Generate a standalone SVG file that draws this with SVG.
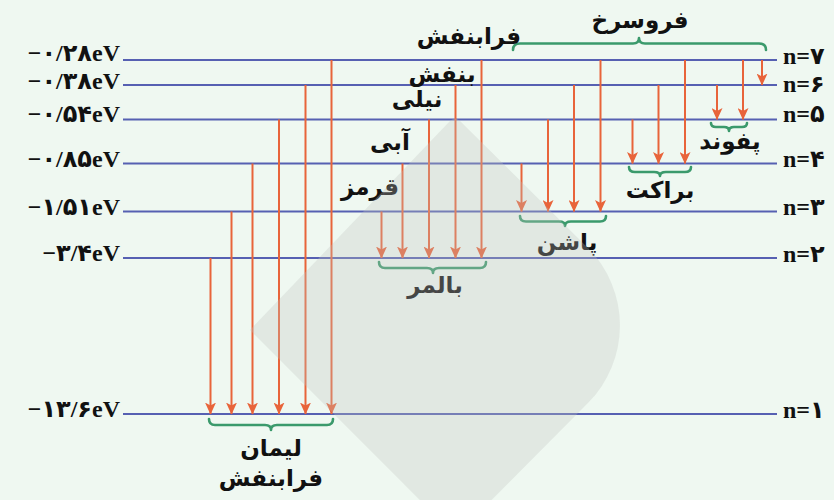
<svg xmlns="http://www.w3.org/2000/svg" width="834" height="500" viewBox="0 0 834 500">
<defs>
<marker id="ah" viewBox="0 0 12 11" refX="11.5" refY="5.5" markerWidth="12" markerHeight="11" markerUnits="userSpaceOnUse" orient="auto">
<path d="M0,0 L12,5.5 L0,11 L3,5.5 Z" fill="#e8643a"/>
</marker>
<style>
.lvl{stroke:#5660b2;stroke-width:2.2;fill:none}
.arr{stroke:#e8643a;stroke-width:2;fill:none;marker-end:url(#ah)}
.br{stroke:#3b9a6c;stroke-width:2.6;fill:none;stroke-linecap:round;stroke-linejoin:round}
.ev{font-family:"Liberation Serif","DejaVu Sans",serif;font-weight:bold;font-size:24px;fill:#111;text-anchor:end}
.nl{font-family:"Liberation Serif","DejaVu Sans",serif;font-weight:bold;font-size:24px;fill:#111}
.fa{font-family:"DejaVu Sans",sans-serif;font-weight:bold;font-size:23px;fill:#111;text-anchor:middle}
</style>
</defs>
<rect width="834" height="500" fill="#eff8f1"/>

<g id="levels">
<g id="n7"><line class="lvl" x1="123" y1="60" x2="777" y2="60"/><text class="ev" x="120" y="60.5">−۰/۲۸eV</text><text class="nl" x="783" y="64">n=۷</text></g>
<g id="n6"><line class="lvl" x1="123" y1="85" x2="777" y2="85"/><text class="ev" x="120" y="89">−۰/۳۸eV</text><text class="nl" x="783" y="91.5">n=۶</text></g>
<g id="n5"><line class="lvl" x1="123" y1="119.5" x2="777" y2="119.5"/><text class="ev" x="120" y="122">−۰/۵۴eV</text><text class="nl" x="783" y="122">n=۵</text></g>
<g id="n4"><line class="lvl" x1="123" y1="163.5" x2="777" y2="163.5"/><text class="ev" x="120" y="166.5">−۰/۸۵eV</text><text class="nl" x="783" y="167">n=۴</text></g>
<g id="n3"><line class="lvl" x1="123" y1="211.5" x2="777" y2="211.5"/><text class="ev" x="120" y="215">−۱/۵۱eV</text><text class="nl" x="783" y="215">n=۳</text></g>
<g id="n2"><line class="lvl" x1="123" y1="258" x2="777" y2="258"/><text class="ev" x="120" y="260.5">−۳/۴eV</text><text class="nl" x="783" y="262">n=۲</text></g>
<g id="n1"><line class="lvl" x1="123" y1="414" x2="777" y2="414"/><text class="ev" x="120" y="417">−۱۳/۶eV</text><text class="nl" x="783" y="418">n=۱</text></g>
</g>

<g id="connectors">
<line class="arr" x1="210.5" y1="258" x2="210.5" y2="414"/>
<line class="arr" x1="231.5" y1="211.5" x2="231.5" y2="414"/>
<line class="arr" x1="252.5" y1="163.5" x2="252.5" y2="414"/>
<line class="arr" x1="279" y1="119.5" x2="279" y2="414"/>
<line class="arr" x1="305.5" y1="85" x2="305.5" y2="414"/>
<line class="arr" x1="331.5" y1="60" x2="331.5" y2="414"/>

<line class="arr" x1="381.5" y1="211.5" x2="381.5" y2="258"/>
<line class="arr" x1="402.5" y1="163.5" x2="402.5" y2="258"/>
<line class="arr" x1="429" y1="119.5" x2="429" y2="258"/>
<line class="arr" x1="455.5" y1="85" x2="455.5" y2="258"/>
<line class="arr" x1="481.5" y1="60" x2="481.5" y2="258"/>

<line class="arr" x1="521.5" y1="163.5" x2="521.5" y2="211.5"/>
<line class="arr" x1="548" y1="119.5" x2="548" y2="211.5"/>
<line class="arr" x1="574" y1="85" x2="574" y2="211.5"/>
<line class="arr" x1="600.5" y1="60" x2="600.5" y2="211.5"/>

<line class="arr" x1="632.5" y1="119.5" x2="632.5" y2="163.5"/>
<line class="arr" x1="658.5" y1="85" x2="658.5" y2="163.5"/>
<line class="arr" x1="685" y1="60" x2="685" y2="163.5"/>

<line class="arr" x1="717" y1="85" x2="717" y2="119.5"/>
<line class="arr" x1="743" y1="60" x2="743" y2="119.5"/>

<line class="arr" x1="762" y1="60" x2="762" y2="85"/>
</g>

<g id="lyman"><path class="br" d="M209,419 Q209,425 215,425 L265,425 Q271,425 271,430 Q271,425 277,425 L327,425 Q333,425 333,419"/><text class="fa" x="271" y="456">لیمان</text><text class="fa" x="271" y="486">فرابنفش</text></g>
<g id="balmer"><path class="br" d="M379,262 Q379,268 385,268 L427,268 Q433,268 433,273 Q433,268 439,268 L480,268 Q486,268 486,262"/><text class="fa" x="435" y="293">بالمر</text></g>
<g id="paschen"><path class="br" d="M520,216 Q520,221.5 526,221.5 L559,221.5 Q565,221.5 565,226 Q565,221.5 571,221.5 L600,221.5 Q606,221.5 606,216"/><text class="fa" x="567" y="250">پاشن</text></g>
<g id="brackett"><path class="br" d="M629,167 Q629,172 635,172 L654,172 Q660,172 660,176 Q660,172 666,172 L685,172 Q691,172 691,167"/><text class="fa" x="660" y="198">براکت</text></g>
<g id="pfund"><path class="br" d="M711,123 Q711,127 716,127 L724,127 Q729,127 729,131 Q729,127 734,127 L742,127 Q747,127 747,123"/><text class="fa" x="730" y="149">پفوند</text></g>
<g id="infrared"><path class="br" d="M513,50 Q513,43.5 520,43.5 L633,43.5 Q639,43.5 639,38 Q639,43.5 645,43.5 L759,43.5 Q766,43.5 766,50"/><text class="fa" x="640" y="28">فروسرخ</text></g>
<g id="visible">
<text class="fa" x="469" y="44">فرابنفش</text>
<text class="fa" x="442" y="82">بنفش</text>
<text class="fa" x="417" y="107">نیلی</text>
<text class="fa" x="390" y="150">آبی</text>
<text class="fa" x="370" y="195">قرمز</text>
</g>

<path id="watermark" d="M250,330 L450,121 Q455,116 460,121 L587.7,247.7 A110,110 0 0 1 587.7,403.3 L455.8,536 Z" fill="#c1c3c1" fill-opacity="0.3"/>
</svg>
